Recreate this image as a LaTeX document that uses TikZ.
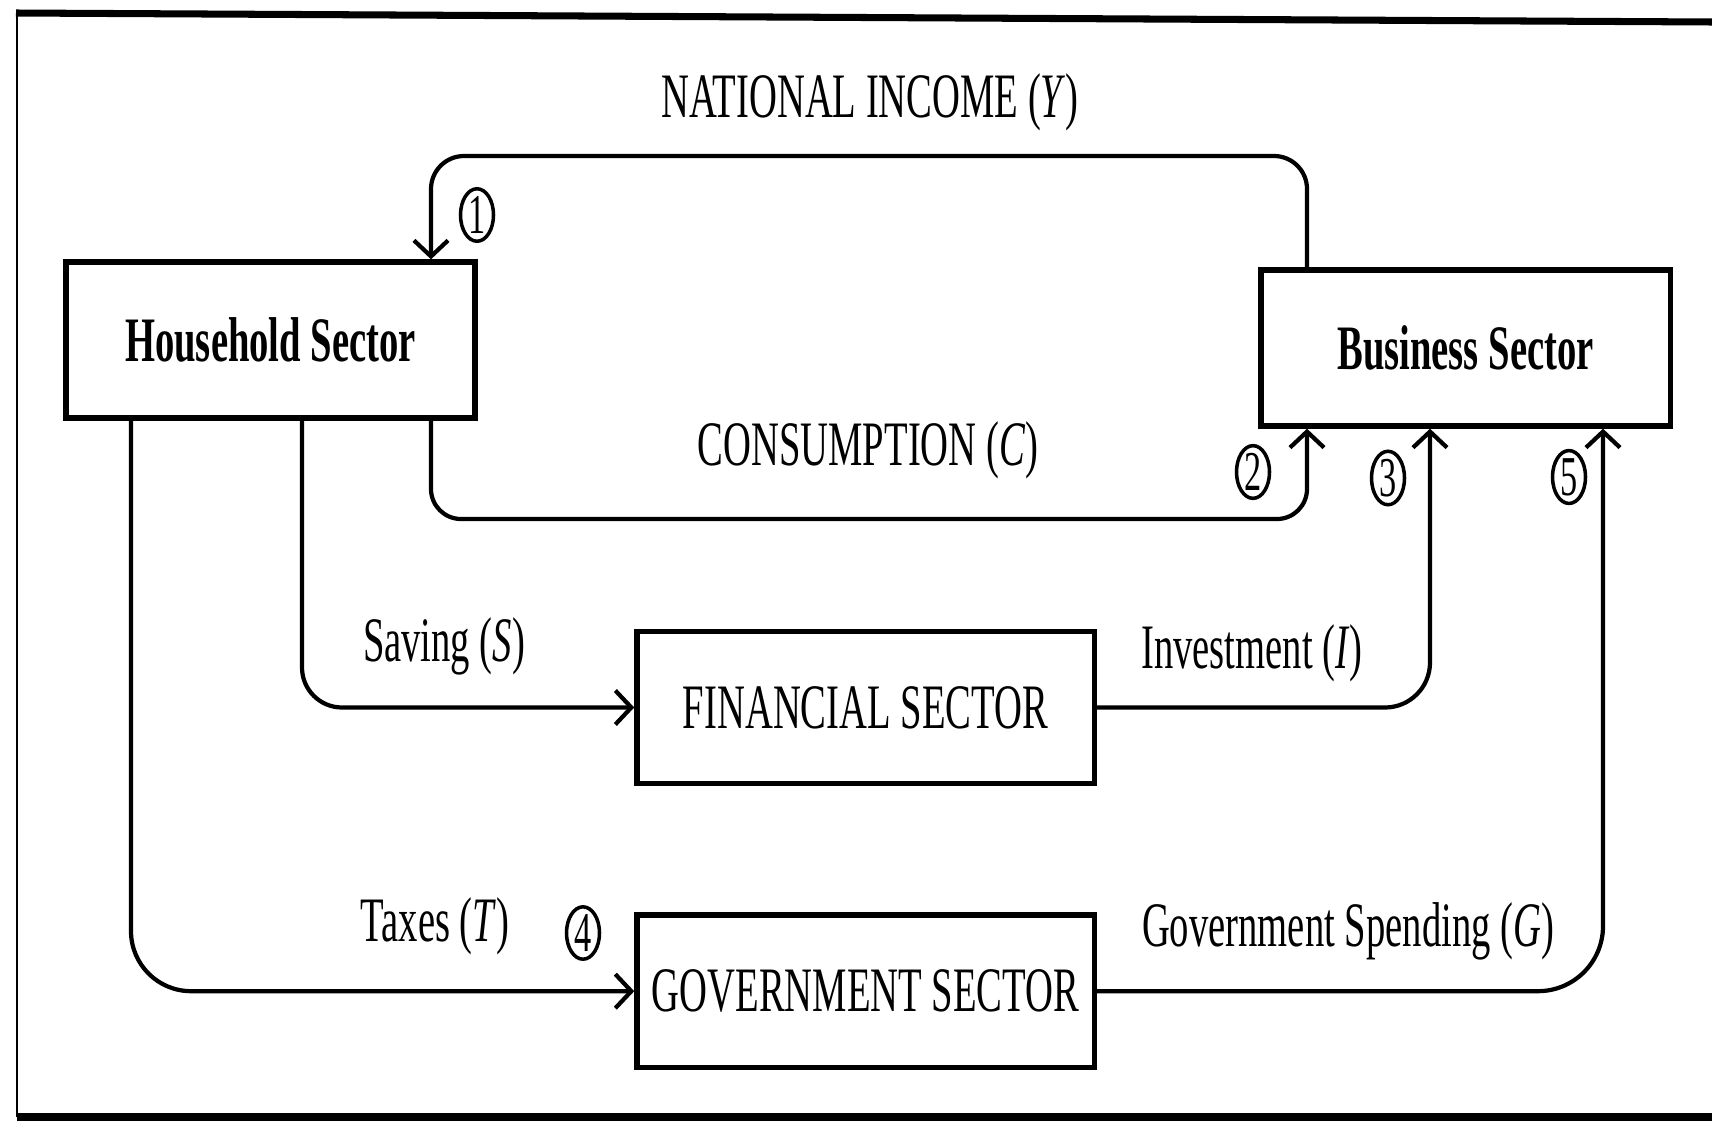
\documentclass[tikz,border=0pt]{standalone}
\usepackage{fontspec}
\setmainfont{Liberation Serif}[FakeStretch=0.61]
\usetikzlibrary{positioning,shapes.geometric,arrows.meta}

\tikzset{
  sector/.style={draw, line width=1.5pt, minimum width=4.09cm, minimum height=1.56cm,
    inner sep=0pt, font=\fontsize{18}{20}\selectfont\bfseries},
  bigsector/.style={sector, minimum width=4.57cm, minimum height=1.52cm,
    font=\fontsize{18}{20}\selectfont},
  flow/.style={line width=1.2pt, -{Straight Barb[length=1.6mm,width=3.4mm]}},
  flowlabel/.style={font=\fontsize{18}{20}\selectfont, inner sep=0pt},
  num/.style={draw, ellipse, line width=1pt, minimum width=0.33cm, minimum height=0.48cm,
    inner sep=0pt, font=\fontsize{16}{16}\selectfont}
}

\begin{document}
\begin{tikzpicture}[x=0.01cm, y=-0.01cm]
  \useasboundingbox (0,0) rectangle (1712,1124);
  % frame
  \draw[line width=2pt] (16,13) -- (1712,22);
  \draw[line width=0.7pt] (17,13) -- (17,1117);
  \draw[line width=2pt] (17,1117) -- (1712,1117);

  % sectors
  \node[sector] (house) at (270.5,340) {Household Sector};
  \node[sector] (business) at (1465.5,348) {Business Sector};
  \node[bigsector] (finance) at (865.5,707.5) {FINANCIAL SECTOR};
  \node[bigsector, on grid, below=2.835cm of finance] (govt) {GOVERNMENT SECTOR};

  % flows
  \draw[flow, rounded corners=0.33cm] (1307,0 |- business.north) |- (870,156) -| (431,0 |- house.north);
  \draw[flow, rounded corners=0.3cm] (431,0 |- house.south) |- (868,519) -| (1307,0 |- business.south);
  \draw[flow, rounded corners=0.4cm] (302,0 |- house.south) |- (finance.west);
  \draw[flow, rounded corners=0.45cm] (finance.east) -| (1430,0 |- business.south);
  \draw[flow, rounded corners=0.6cm] (131,0 |- house.south) |- (govt.west);
  \draw[flow, rounded corners=0.65cm] (govt.east) -| (1603,0 |- business.south);

  % labels
  \node[flowlabel] (income) at (870,102) {NATIONAL INCOME (\textit{Y})};
  \node[flowlabel] (consume) at (868,450) {CONSUMPTION (\textit{C})};
  \node[flowlabel] (saving) at (444,646) {Saving (\textit{S})};
  \node[flowlabel] (invest) at (1252,653) {Investment (\textit{I})};
  \node[flowlabel] (taxes) at (435,926) {Taxes (\textit{T})};
  \node[flowlabel] (spend) at (1348,931) {Government Spending (\textit{G})};

  % numbers
  \node[num] (n1) at (477,215) {1};
  \node[num] (n2) at (1253,472) {2};
  \node[num] (n3) at (1388,478) {3};
  \node[num] (n4) at (583,933) {4};
  \node[num] (n5) at (1569,477) {5};
\end{tikzpicture}
\end{document}
